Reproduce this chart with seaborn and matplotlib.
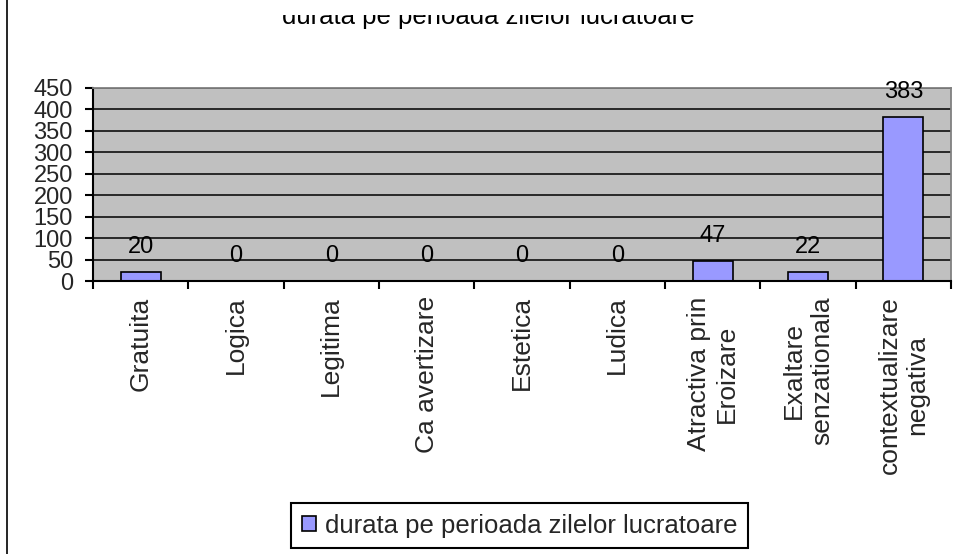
import matplotlib
matplotlib.use('Agg')
import matplotlib.pyplot as plt
from matplotlib.lines import Line2D
from matplotlib.transforms import Bbox, TransformedBbox
from matplotlib.ticker import FixedLocator, MultipleLocator
import seaborn as sns

# data
categories = ['Gratuita', 'Logica', 'Legitima', 'Ca avertizare', 'Estetica', 'Ludica',
              'Atractiva prin\nEroizare', 'Exaltare\nsenzationala', 'contextualizare\nnegativa']
values = [20, 0, 0, 0, 0, 0, 47, 22, 383]
series_name = 'durata pe perioada zilelor lucratoare'

sns.set_style('white')
plt.rcParams['font.family'] = ['Liberation Sans', 'DejaVu Sans']

W, H = 956, 554
fig = plt.figure(figsize=(W / 100, H / 100), dpi=100)
ax = fig.add_axes([93 / W, 1 - 281 / H, (951 - 93) / W, (281 - 88) / H])
ax.set_facecolor('#C0C0C0')

sns.barplot(x=categories, y=values, color='#9999FF', saturation=1, edgecolor='black',
            linewidth=1.2, width=0.42, ax=ax, label=series_name)
if ax.get_legend() is not None:
    ax.get_legend().remove()

ax.set_xlim(-0.5, len(categories) - 0.5)
ax.set_ylim(0, 450)
ax.yaxis.set_major_locator(MultipleLocator(50))
ax.set_axisbelow(True)
ax.grid(axis='y', color='black', linewidth=1.1)
ax.grid(axis='x', visible=False)

# spines
for side in ['top', 'right']:
    ax.spines[side].set_color('#808080')
    ax.spines[side].set_linewidth(1.3)
for side in ['bottom', 'left']:
    ax.spines[side].set_color('black')
    ax.spines[side].set_linewidth(1.5)

# y ticks
ax.tick_params(axis='y', direction='out', length=6, width=1.5, color='black',
               labelsize=17, pad=8.5, left=True)
# x ticks: labels at centers, marks at category boundaries
ax.set_xlabel('')
ax.set_ylabel('')
ax.xaxis.set_minor_locator(FixedLocator([i - 0.5 for i in range(len(categories) + 1)]))
ax.tick_params(axis='x', which='minor', direction='out', length=6, width=1.5,
               color='black', bottom=True)
ax.tick_params(axis='x', which='major', length=0, pad=11, labelsize=19, bottom=True)
plt.setp(ax.get_xticklabels(), rotation=90, ha='center', va='top')

# data labels
for i, v in enumerate(values):
    ax.annotate(str(v), (i, v), xytext=(0, 18), textcoords='offset points',
                ha='center', va='center', fontsize=17, color='black')

# title, cut off at the top as in the source image
title = fig.text(488 / W, 1 - 24 / H, series_name, ha='center', va='baseline',
                 fontsize=18.5, color='black')
title.set_clip_box(TransformedBbox(Bbox([[0, 0], [1, 1 - 15 / H]]), fig.transFigure))
title.set_clip_on(True)

# stray border line on the left edge
fig.add_artist(Line2D([7 / W, 7 / W], [0, 1], transform=fig.transFigure,
                      color='black', linewidth=1.2))

# legend
handles, labels = ax.get_legend_handles_labels()
leg = fig.legend(handles[:1], labels[:1], loc='center',
                 bbox_to_anchor=(519.5 / W, 1 - 525.5 / H), fontsize=18.5,
                 frameon=True, fancybox=False, edgecolor='black', framealpha=1,
                 handlelength=0.56, handleheight=0.56, handletextpad=0.35,
                 borderpad=0.42, borderaxespad=0)
leg.get_frame().set_linewidth(1.5)

fig.savefig('out.png', dpi=100)
